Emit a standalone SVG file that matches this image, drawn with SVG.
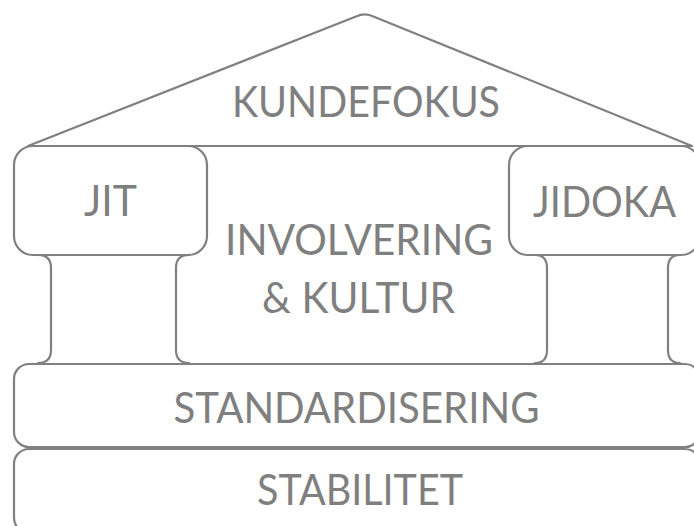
<svg xmlns="http://www.w3.org/2000/svg" width="694" height="526" viewBox="0 0 694 526">
<style>
.ln{fill:none;stroke:#808080;stroke-width:2.2;stroke-linejoin:round;stroke-linecap:round}
.bx{fill:#ffffff;stroke:#808080;stroke-width:2.2}
.tx{font-family:Lato,"Liberation Sans",sans-serif;font-size:42px;fill:#7f7f7f;text-anchor:middle}
</style>
<rect width="694" height="526" fill="#ffffff"/>
<g id="stabilitet">
<rect class="bx" x="14" y="449" width="686" height="84" rx="15"/>
<text class="tx" x="360" y="505" textLength="206" lengthAdjust="spacingAndGlyphs">STABILITET</text>
</g>
<g id="standardisering">
<rect class="bx" x="14" y="364" width="686" height="83" rx="15"/>
<text class="tx" x="356.5" y="423" textLength="366" lengthAdjust="spacingAndGlyphs">STANDARDISERING</text>
</g>
<g id="kundefokus">
<path class="ln" d="M28,146 L356,16.5 Q365,12 374,16.7 L692,146 Z"/>
<text class="tx" x="366" y="117" textLength="268" lengthAdjust="spacingAndGlyphs">KUNDEFOKUS</text>
</g>
<g id="involvering">
<path class="ln" d="M189,255 Q176,255 176,268 L176,350 Q176,363 189,363"/>
<path class="ln" d="M535,255 Q547,255 547,268 L547,350 Q547,363 535,363"/>
<text class="tx" x="359" y="255" textLength="268" lengthAdjust="spacingAndGlyphs">INVOLVERING</text>
<text class="tx" x="358.5" y="313" textLength="193" lengthAdjust="spacingAndGlyphs">&amp; KULTUR</text>
</g>
<g id="jit">
<rect class="bx" x="14" y="146" width="193" height="109" rx="19"/>
<path class="ln" d="M38,255 Q51,255 51,268 L51,350 Q51,363 38,363"/>
<text class="tx" x="110.5" y="216" textLength="53" lengthAdjust="spacingAndGlyphs">JIT</text>
</g>
<g id="jidoka">
<rect class="bx" x="509" y="146" width="191" height="109" rx="19"/>
<path class="ln" d="M680,255 Q668,255 668,268 L668,350 Q668,363 680,363"/>
<text class="tx" x="604.5" y="217" textLength="143" lengthAdjust="spacingAndGlyphs">JIDOKA</text>
</g>
<g id="connectors"/>
</svg>
